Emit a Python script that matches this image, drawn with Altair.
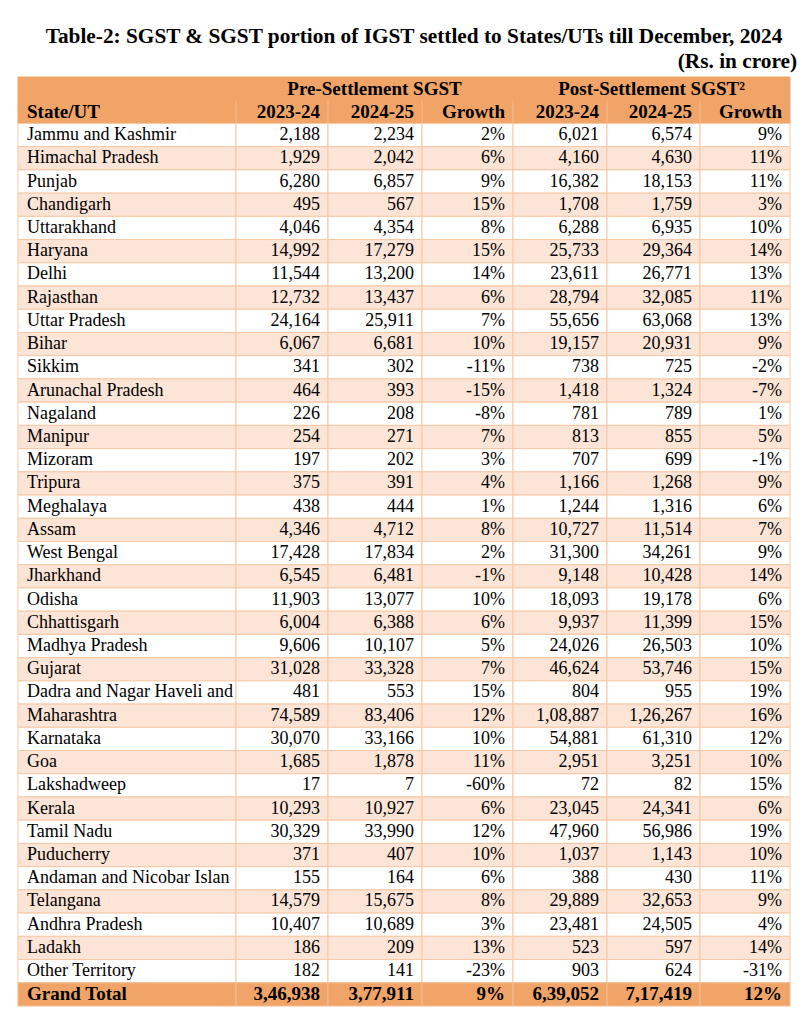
import altair as alt
import pandas as pd

# ---------------- data ----------------
title_text = "Table-2: SGST & SGST portion of IGST settled to States/UTs till December, 2024"
unit_text = "(Rs. in crore)"
group_headers = ["Pre-Settlement SGST", "Post-Settlement SGST²"]
col_headers = ["State/UT", "2023-24", "2024-25", "Growth", "2023-24", "2024-25", "Growth"]

states = [
    "Jammu and Kashmir", "Himachal Pradesh", "Punjab", "Chandigarh", "Uttarakhand",
    "Haryana", "Delhi", "Rajasthan", "Uttar Pradesh", "Bihar", "Sikkim",
    "Arunachal Pradesh", "Nagaland", "Manipur", "Mizoram", "Tripura", "Meghalaya",
    "Assam", "West Bengal", "Jharkhand", "Odisha", "Chhattisgarh", "Madhya Pradesh",
    "Gujarat", "Dadra and Nagar Haveli and Daman and Diu", "Maharashtra", "Karnataka",
    "Goa", "Lakshadweep", "Kerala", "Tamil Nadu", "Puducherry",
    "Andaman and Nicobar Islands", "Telangana", "Andhra Pradesh", "Ladakh",
    "Other Territory",
]
pre_2023_24 = [2188, 1929, 6280, 495, 4046, 14992, 11544, 12732, 24164, 6067, 341,
               464, 226, 254, 197, 375, 438, 4346, 17428, 6545, 11903, 6004, 9606,
               31028, 481, 74589, 30070, 1685, 17, 10293, 30329, 371, 155, 14579,
               10407, 186, 182]
pre_2024_25 = [2234, 2042, 6857, 567, 4354, 17279, 13200, 13437, 25911, 6681, 302,
               393, 208, 271, 202, 391, 444, 4712, 17834, 6481, 13077, 6388, 10107,
               33328, 553, 83406, 33166, 1878, 7, 10927, 33990, 407, 164, 15675,
               10689, 209, 141]
pre_growth = [2, 6, 9, 15, 8, 15, 14, 6, 7, 10, -11, -15, -8, 7, 3, 4, 1, 8, 2, -1,
              10, 6, 5, 7, 15, 12, 10, 11, -60, 6, 12, 10, 6, 8, 3, 13, -23]
post_2023_24 = [6021, 4160, 16382, 1708, 6288, 25733, 23611, 28794, 55656, 19157, 738,
                1418, 781, 813, 707, 1166, 1244, 10727, 31300, 9148, 18093, 9937, 24026,
                46624, 804, 108887, 54881, 2951, 72, 23045, 47960, 1037, 388, 29889,
                23481, 523, 903]
post_2024_25 = [6574, 4630, 18153, 1759, 6935, 29364, 26771, 32085, 63068, 20931, 725,
                1324, 789, 855, 699, 1268, 1316, 11514, 34261, 10428, 19178, 11399, 26503,
                53746, 955, 126267, 61310, 3251, 82, 24341, 56986, 1143, 430, 32653,
                24505, 597, 624]
post_growth = [9, 11, 11, 3, 10, 14, 13, 11, 13, 9, -2, -7, 1, 5, -1, 9, 6, 7, 9, 14,
               6, 15, 10, 15, 19, 16, 12, 10, 15, 6, 19, 10, 11, 9, 4, 14, -31]
total_label = "Grand Total"
total_values = [346938, 377911, 9, 639052, 717419, 12]

# ---------------- layout / style ----------------
col_widths = [218, 92, 94, 91, 94, 93, 90]
edges = [0]
for w in col_widths:
    edges.append(edges[-1] + w)
W = edges[-1]
N_ROWS = 2 + len(states) + 1
H = 929

HDR = "#F0A468"
ALT = "#FCE4D6"
GRID = "#F7C8A5"
HDR_LINE = "#F5BC90"
FONT = "Liberation Serif"
FS = 18
FS_HDR = 19
FS_TITLE = 21.3


def inr(n):
    s = str(abs(n))
    if len(s) > 3:
        head, tail = s[:-3], s[-3:]
        groups = []
        while len(head) > 2:
            groups.insert(0, head[-2:])
            head = head[:-2]
        if head:
            groups.insert(0, head)
        s = ",".join(groups + [tail])
    return ("-" if n < 0 else "") + s


def pct(n):
    return f"{n}%"


# rectangles
rects = [dict(x0=0, x1=W, r0=0, r1=2, fill=HDR, stroke=HDR)]
for i in range(len(states)):
    r = 2 + i
    fill = "#FFFFFF" if i % 2 == 0 else ALT
    for c in range(7):
        rects.append(dict(x0=edges[c], x1=edges[c + 1], r0=r, r1=r + 1, fill=fill, stroke=GRID))
for c in range(7):
    rects.append(dict(x0=edges[c], x1=edges[c + 1], r0=N_ROWS - 1, r1=N_ROWS, fill=HDR, stroke=HDR_LINE))
rect_df = pd.DataFrame(rects)

rules_df = pd.DataFrame([dict(x=edges[c], r0=1, r1=2) for c in range(1, 7)])

# texts
texts = []
texts.append(dict(x=(edges[1] + edges[4]) / 2, r=0.5, t=group_headers[0], kind="hc"))
texts.append(dict(x=(edges[4] + edges[7]) / 2, r=0.5, t=group_headers[1], kind="hc"))
texts.append(dict(x=edges[0] + 9, r=1.5, t=col_headers[0], kind="hl"))
for c in range(1, 7):
    texts.append(dict(x=edges[c + 1] - 8, r=1.5, t=col_headers[c], kind="hr"))
for i, s in enumerate(states):
    r = 2 + i + 0.5
    texts.append(dict(x=edges[0] + 9, r=r, t=s, kind="nl"))
    vals = [inr(pre_2023_24[i]), inr(pre_2024_25[i]), pct(pre_growth[i]),
            inr(post_2023_24[i]), inr(post_2024_25[i]), pct(post_growth[i])]
    for c, v in enumerate(vals, start=1):
        texts.append(dict(x=edges[c + 1] - 8, r=r, t=v, kind="nr"))
r = N_ROWS - 0.5
texts.append(dict(x=edges[0] + 9, r=r, t=total_label, kind="hl"))
tv = [inr(total_values[0]), inr(total_values[1]), pct(total_values[2]),
      inr(total_values[3]), inr(total_values[4]), pct(total_values[5])]
for c, v in enumerate(tv, start=1):
    texts.append(dict(x=edges[c + 1] - 8, r=r, t=v, kind="hr"))
text_df = pd.DataFrame(texts)

xs = alt.Scale(domain=[0, W], nice=False, zero=False)
ys = alt.Scale(domain=[0, N_ROWS], reverse=True, nice=False, zero=False)

cells = alt.Chart(rect_df).mark_rect(strokeWidth=1).encode(
    x=alt.X("x0:Q", scale=xs, axis=None),
    x2="x1:Q",
    y=alt.Y("r0:Q", scale=ys, axis=None),
    y2="r1:Q",
    fill=alt.Fill("fill:N", scale=None),
    stroke=alt.Stroke("stroke:N", scale=None),
)

hdr_rules = alt.Chart(rules_df).mark_rule(color=HDR_LINE, strokeWidth=1).encode(
    x=alt.X("x:Q", scale=xs, axis=None),
    y=alt.Y("r0:Q", scale=ys, axis=None),
    y2="r1:Q",
)


def text_layer(kind, align, bold, size, **kw):
    return alt.Chart(text_df).transform_filter(alt.datum.kind == kind).mark_text(
        align=align, baseline="middle", font=FONT, fontSize=size,
        fontWeight="bold" if bold else "normal", color="#000000", **kw
    ).encode(
        x=alt.X("x:Q", scale=xs, axis=None),
        y=alt.Y("r:Q", scale=ys, axis=None),
        text="t:N",
    )


t_hc = text_layer("hc", "center", True, FS_HDR)
t_hl = text_layer("hl", "left", True, FS_HDR)
t_hr = text_layer("hr", "right", True, FS_HDR)
t_nl = text_layer("nl", "left", False, FS, limit=edges[1] - 6, ellipsis=" ")
t_nr = text_layer("nr", "right", False, FS)

title = alt.Chart(pd.DataFrame({"t": [title_text]})).mark_text(
    align="center", baseline="middle", font=FONT, fontSize=FS_TITLE, fontWeight="bold", color="#000000"
).encode(text="t:N", x=alt.value(396), y=alt.value(-40))

unit = alt.Chart(pd.DataFrame({"t": [unit_text]})).mark_text(
    align="right", baseline="middle", font=FONT, fontSize=FS_TITLE, fontWeight="bold", color="#000000"
).encode(text="t:N", x=alt.value(779), y=alt.value(-15))

chart = alt.layer(cells, hdr_rules, t_hc, t_hl, t_hr, t_nl, t_nr, title, unit).properties(
    width=W, height=H,
    padding={"left": 10, "top": 69, "right": 13, "bottom": 2},
    autosize="none",
    background="#FFFFFF",
).configure_view(stroke=None)

chart.save("out.html", embed_options={"renderer": "svg", "actions": False})
